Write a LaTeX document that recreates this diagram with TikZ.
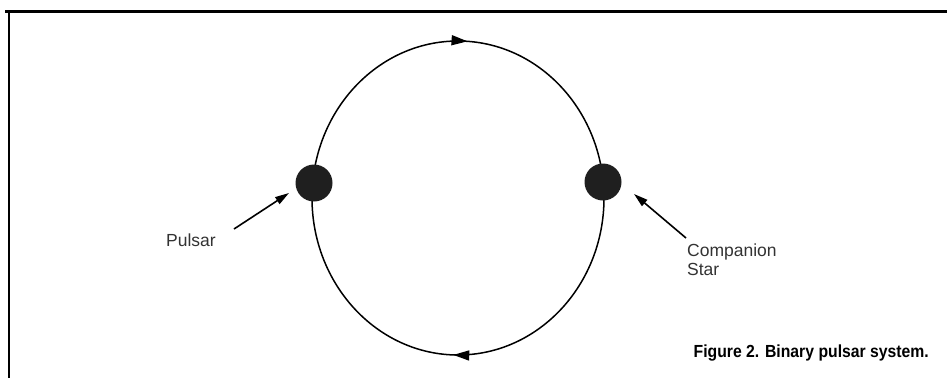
\documentclass[tikz,border=0pt]{standalone}
\usepackage{fontspec}
\setmainfont{Liberation Sans}
\usetikzlibrary{arrows.meta,decorations.markings}
\begin{document}
\begin{tikzpicture}[x=1pt,y=-1pt,
  star/.style={circle,fill=black!88,minimum size=37pt,inner sep=0pt},
  lbl/.style={font=\fontsize{17.5}{19}\selectfont,text=black!80,inner sep=0pt},
  pointer/.style={-{Triangle[length=14pt,width=8pt]},line width=1.6pt},
  orbit/.style={line width=1.5pt}]
\useasboundingbox (0,0) rectangle (947,378);
\fill[white] (0,0) rectangle (947,378);
\draw[line width=3pt] (5,11) -- (947,11);
\draw[line width=2.4pt] (9,10) -- (9,378);
% orbit
\draw[orbit,postaction={decorate,decoration={markings,
   mark=at position 0.255 with {\arrow{Triangle[length=16pt,width=10pt]}},
   mark=at position 0.76 with {\arrow{Triangle[length=16pt,width=10pt]}}}}]
   (458,198) ellipse [x radius=146, y radius=157];
\node[star] (pulsar) at (314,183) {};
\node[star] (comp) at (603,182) {};
\node[lbl,anchor=base west] (pl) at (166,246) {Pulsar};
\node[lbl,anchor=base west,align=left] (cl) at (687,275) {Companion\\Star};
\coordinate (pa) at (234,229);
\coordinate (ca) at (686,238);
\draw[pointer] (pa) -- (289,193);
\draw[pointer] (ca) -- (634,194);
\node[anchor=base east,inner sep=0pt] (cap) at (929,357) {\scalebox{0.9}[1]{\fontsize{17.5}{19}\selectfont\bfseries Figure 2. Binary pulsar system.}};
\end{tikzpicture}
\end{document}
